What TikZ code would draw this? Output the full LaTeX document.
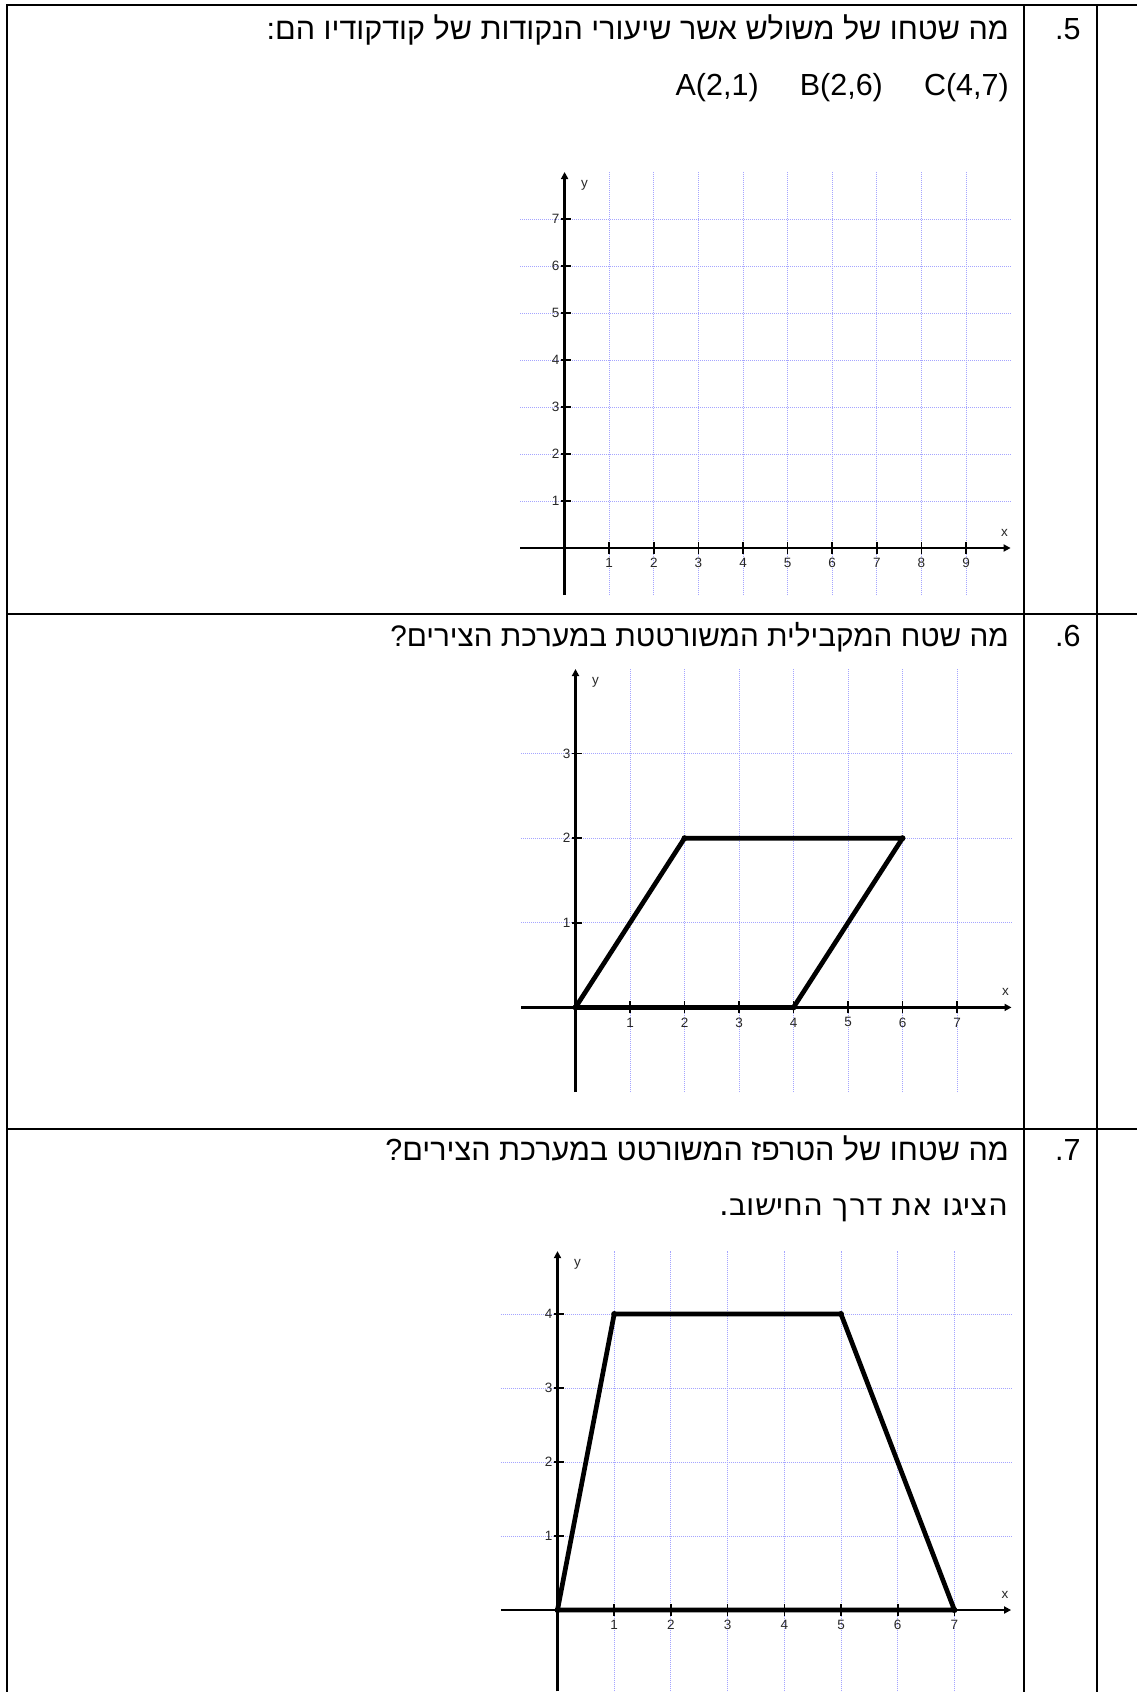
\documentclass[tikz,border=0pt]{standalone}
\usepackage{fontspec}
\setmainfont{Liberation Sans}
\newfontfamily\heb[Script=Hebrew]{Liberation Sans}
\newfontfamily\hebb[Script=Hebrew]{DejaVu Sans}
\TeXXeTstate=1
\usetikzlibrary{arrows.meta}
\definecolor{gridblue}{RGB}{165,165,255}
\definecolor{labgray}{RGB}{40,40,40}
\tikzset{
  rule/.style={line width=2.2pt, line cap=rect},
  gridline/.style={gridblue, line width=0.9pt, dash pattern=on 1pt off 1pt},
  axis/.style={line width=2.4pt, -{Triangle[length=7pt,width=7pt]}},
  plainaxis/.style={line width=2.4pt},
  tickmark/.style={line width=1.6pt},
  ticklab/.style={font=\fontsize{13.5}{15}\selectfont, text=labgray, inner sep=0pt},
  shapeline/.style={line width=4.7pt, line join=round},
  txt/.style={font=\fontsize{30.5}{34}\selectfont, inner sep=0pt},
  hebtxt/.style={font=\fontsize{30.5}{34}\selectfont\heb, inner sep=0pt}
}
\begin{document}
\begin{tikzpicture}[x=1pt,y=-1pt]
\path[use as bounding box, fill=white] (0,0) rectangle (1136,1692);
% ---------- table ----------
\coordinate (tl) at (7,5);
\coordinate (tr) at (1136,5);
\coordinate (bl) at (7,1692);
\draw[rule] (tl) -- (tr);
\draw[rule] (tl) -- (bl);
\draw[rule] (1024,5) -- (1024,1692);
\draw[rule] (1097,5) -- (1097,1692);
\draw[rule] (7,614) -- (1136,614);
\draw[rule] (7,1129) -- (1136,1129);
% ---------- texts ----------
\node[hebtxt, anchor=base east] (q5) at (1009,39) {\beginR מה שטחו של משולש אשר שיעורי הנקודות של קודקודיו הם:\endR};
\node[txt, anchor=base east] (pts) at (1009,95) {A(2,1)\hspace{1.35em}B(2,6)\hspace{1.35em}C(4,7)};
\node[txt, anchor=base west] (n5) at (1055,39) {.5};
\node[hebtxt, font=\fontsize{29.7}{34}\selectfont\heb, anchor=base east] (q6) at (1009,646) {\beginR מה שטח המקבילית המשורטטת במערכת הצירים?\endR};
\node[txt, anchor=base west] (n6) at (1055,646) {.6};
\node[hebtxt, anchor=base east] (q7) at (1009,1160) {\beginR מה שטחו של הטרפז המשורטט במערכת הצירים?\endR};
\node[txt, anchor=base west] (n7) at (1055,1160) {.7};
\node[txt, font=\fontsize{30.5}{34}\selectfont\hebb, anchor=base east] (q7b) at (1009,1215) {\beginR הציגו את דרך החישוב.\endR};
% ---------- chart 1 ----------
\begin{scope}[shift={(564.6,548)}, x=44.6pt, y=47pt]
  \foreach \i in {1,...,9} \draw[gridline] (\i,-1) -- (\i,8);
  \foreach \j in {1,...,7} \draw[gridline] (-1,\j) -- (10,\j);
  \draw[axis] (-1,0) -- (10,0);
  \draw[plainaxis] (0,-1) -- (0,0);
  \draw[axis] (0,0) -- (0,8);
  \foreach \i in {1,...,9} {
    \draw[tickmark] ([yshift=-6pt]\i,0) -- ([yshift=6pt]\i,0);
    \node[ticklab] (a\i) at ([yshift=-15pt]\i,0) {\i};
  }
  \foreach \j in {1,...,7} {
    \draw[tickmark] ([xshift=-4pt]0,\j) -- ([xshift=6pt]0,\j);
    \node[ticklab] (b\j) at ([xshift=-9pt]0,\j) {\j};
  }
  \node[ticklab] (ax1) at ([xshift=-6pt,yshift=15pt]10,0) {x};
  \node[ticklab] (ay1) at ([xshift=20pt,yshift=-13pt]0,8) {y};
\end{scope}
% ---------- chart 2 ----------
\begin{scope}[shift={(575.5,1007.4)}, x=54.5pt, y=84.6pt]
  \foreach \i in {1,...,7} \draw[gridline] (\i,-1) -- (\i,4);
  \foreach \j in {1,...,3} \draw[gridline] (-1,\j) -- (8,\j);
  \draw[axis] (-1,0) -- (8,0);
  \draw[plainaxis] (0,-1) -- (0,0);
  \draw[axis] (0,0) -- (0,4);
  \foreach \i in {1,...,7} {
    \draw[tickmark] ([yshift=-6pt]\i,0) -- ([yshift=6pt]\i,0);
    \node[ticklab] (c\i) at ([yshift=-15pt]\i,0) {\i};
  }
  \foreach \j in {1,...,3} {
    \draw[tickmark] ([xshift=-4pt]0,\j) -- ([xshift=6pt]0,\j);
    \node[ticklab] (d\j) at ([xshift=-9pt]0,\j) {\j};
  }
  \node[ticklab] (ax2) at ([xshift=-6pt,yshift=15pt]8,0) {x};
  \node[ticklab] (ay2) at ([xshift=20pt,yshift=-13pt]0,4) {y};
  \coordinate (P1) at (0,0);
  \coordinate (P2) at (2,2);
  \coordinate (P3) at (6,2);
  \coordinate (P4) at (4,0);
  \draw[shapeline] (P1) -- (P2) -- (P3) -- (P4) -- cycle;
  \foreach \p in {P1,P2,P3,P4} \fill (\p) circle (3pt);
\end{scope}
% ---------- chart 3 ----------
\begin{scope}[shift={(557.5,1610)}, x=56.7pt, y=74pt]
  \foreach \i in {1,...,7} \draw[gridline] (\i,-1.1) -- (\i,4.85);
  \foreach \j in {1,...,4} \draw[gridline] (-1,\j) -- (8,\j);
  \draw[axis] (-1,0) -- (8,0);
  \draw[plainaxis] (0,-1.1) -- (0,0);
  \draw[axis] (0,0) -- (0,4.85);
  \foreach \i in {1,...,7} {
    \draw[tickmark] ([yshift=-6pt]\i,0) -- ([yshift=6pt]\i,0);
    \node[ticklab] (e\i) at ([yshift=-15pt]\i,0) {\i};
  }
  \foreach \j in {1,...,4} {
    \draw[tickmark] ([xshift=-4pt]0,\j) -- ([xshift=6pt]0,\j);
    \node[ticklab] (f\j) at ([xshift=-9pt]0,\j) {\j};
  }
  \node[ticklab] (ax3) at ([xshift=-6pt,yshift=15pt]8,0) {x};
  \node[ticklab] (ay3) at ([xshift=20pt,yshift=-13pt]0,4.85) {y};
  \coordinate (T1) at (0,0);
  \coordinate (T2) at (1,4);
  \coordinate (T3) at (5,4);
  \coordinate (T4) at (7,0);
  \draw[shapeline] (T1) -- (T2) -- (T3) -- (T4) -- cycle;
  \foreach \p in {T1,T2,T3,T4} \fill (\p) circle (3pt);
\end{scope}
\end{tikzpicture}
\end{document}
